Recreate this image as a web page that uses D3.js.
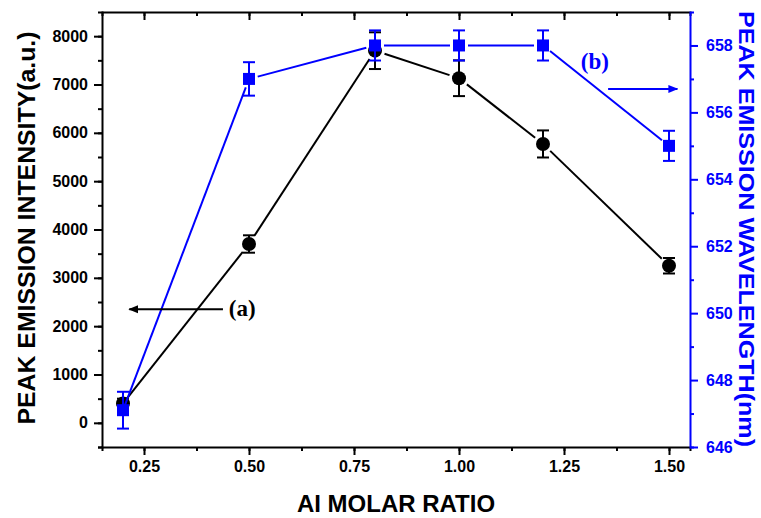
<!DOCTYPE html>
<html>
<head>
<meta charset="utf-8">
<style>
body { margin: 0; background: #fff; }
text { font-family: "Liberation Sans", Arial, sans-serif; font-weight: bold; }
.note { font-family: "Liberation Serif", "Times New Roman", serif; font-weight: bold; }
</style>
</head>
<body>
<script src="https://cdn.jsdelivr.net/npm/d3@7/dist/d3.min.js"></script>
<script>

// data
var ratio = [0.2, 0.5, 0.8, 1.0, 1.2, 1.5];
var intensity = [400, 3700, 7700, 7130, 5770, 3250];
var intensityErr = [100, 180, 380, 370, 280, 160];
var wavelength = [647.1, 657, 658, 658, 658, 655];
var wavelengthErr = [0.55, 0.5, 0.45, 0.45, 0.45, 0.45];

var xTicks = [0.25, 0.5, 0.75, 1.0, 1.25, 1.5];
var leftTicks = [0, 1000, 2000, 3000, 4000, 5000, 6000, 7000, 8000];
var rightTicks = [646, 648, 650, 652, 654, 656, 658];

var width = 761, height = 518;
var mLeft = 102, mRight = 690, mTop = 12, mBottom = 447;
var blue = "#0000ff";

var svg = d3.select("body").append("svg")
    .attr("width", width)
    .attr("height", height);

var x = d3.scaleLinear().domain([0.15, 1.55]).range([mLeft, mRight]);
var yL = d3.scaleLinear().domain([-500, 8500]).range([mBottom, mTop]);
var yR = d3.scaleLinear().domain([646, 659]).range([mBottom, mTop]);

// axes
var xMinor = d3.range(0.125, 1.55, 0.125).filter(function(v) { return v > 0.15; });
var leftMinor = d3.range(-500, 8500, 500);
var rightMinor = d3.range(647, 659, 2);

function axisWithMinor(g, axisFn, scale, major, minor, fmt, color, pad) {
  g.call(axisFn(scale).tickValues(minor).tickSize(4).tickFormat(""));
  var maj = g.append("g").call(axisFn(scale).tickValues(major).tickSize(8).tickFormat(fmt).tickPadding(pad));
  maj.select(".domain").remove();
  g.selectAll("line").attr("stroke", color).attr("stroke-width", 2);
  g.selectAll(".domain").attr("stroke", color).attr("stroke-width", 2);
  g.selectAll("text").attr("fill", color).style("font-size", "16px")
      .style("font-family", "'Liberation Sans', Arial, sans-serif").style("font-weight", "bold");
}

var gx = svg.append("g").attr("transform", "translate(0," + mBottom + ")");
axisWithMinor(gx, d3.axisBottom, x, xTicks, xMinor, d3.format(".2f"), "#000", 6);

var gTop = svg.append("g").attr("transform", "translate(0," + mTop + ")");
axisWithMinor(gTop, d3.axisBottom, x, xTicks, xMinor, "", "#000", 6);

var gl = svg.append("g").attr("transform", "translate(" + mLeft + ",0)");
axisWithMinor(gl, d3.axisLeft, yL, leftTicks, leftMinor, d3.format("d"), "#000", 6);

var gr = svg.append("g").attr("transform", "translate(" + mRight + ",0)");
axisWithMinor(gr, d3.axisRight, yR, rightTicks, rightMinor, d3.format("d"), blue, 8);

// axis titles (stretched a bit along the axis like the original)
svg.append("text")
    .attr("transform", "translate(35,228) rotate(-90)")
    .attr("text-anchor", "middle")
    .attr("textLength", 393)
    .attr("lengthAdjust", "spacingAndGlyphs")
    .style("font-size", "24px")
    .text("PEAK EMISSION INTENSITY(a.u.)");

svg.append("text")
    .attr("transform", "translate(739,229) rotate(90)")
    .attr("text-anchor", "middle")
    .attr("textLength", 436)
    .attr("lengthAdjust", "spacingAndGlyphs")
    .attr("fill", blue)
    .style("font-size", "22px")
    .text("PEAK EMISSION WAVELENGTH(nm)");

svg.append("text")
    .attr("x", 396)
    .attr("y", 512)
    .attr("text-anchor", "middle")
    .style("font-size", "24px")
    .text("AI MOLAR RATIO");

// series drawing
function series(vals, errs, y, color, shape) {
  var pts = vals.map(function(v, i) { return {x: x(ratio[i]), y: y(v), lo: y(v - errs[i]), hi: y(v + errs[i])}; });
  var g = svg.append("g");
  var gap = shape == "circle" ? 10 : 9;
  for (var i = 0; i < pts.length - 1; i++) {
    var a = pts[i], b = pts[i + 1];
    var dx = b.x - a.x, dy = b.y - a.y, len = Math.sqrt(dx * dx + dy * dy);
    var ux = dx / len, uy = dy / len;
    var g0 = i == 0 ? 3 : gap;
    g.append("line")
        .attr("x1", a.x + ux * g0).attr("y1", a.y + uy * g0)
        .attr("x2", b.x - ux * gap).attr("y2", b.y - uy * gap)
        .attr("stroke", color).attr("stroke-width", 2);
  }
  pts.forEach(function(p) {
    g.append("line").attr("x1", p.x).attr("x2", p.x).attr("y1", p.lo).attr("y2", p.hi)
        .attr("stroke", color).attr("stroke-width", 2);
    [p.lo, p.hi].forEach(function(c) {
      g.append("line").attr("x1", p.x - 6).attr("x2", p.x + 6).attr("y1", c).attr("y2", c)
          .attr("stroke", color).attr("stroke-width", 2);
    });
    if (shape == "circle") {
      g.append("circle").attr("cx", p.x).attr("cy", p.y).attr("r", 7).attr("fill", color);
    } else {
      g.append("rect").attr("x", p.x - 6).attr("y", p.y - 6).attr("width", 12).attr("height", 12).attr("fill", color);
    }
  });
}

series(intensity, intensityErr, yL, "#000", "circle");
series(wavelength, wavelengthErr, yR, blue, "square");

// annotations
svg.append("defs").selectAll("marker")
    .data([["arrK", "#000"], ["arrB", blue]])
    .enter().append("marker")
    .attr("id", function(d) { return d[0]; })
    .attr("viewBox", "0 0 10 10").attr("refX", 9).attr("refY", 5)
    .attr("markerWidth", 5).attr("markerHeight", 5).attr("orient", "auto")
    .append("path").attr("d", "M0,1 L10,5 L0,9 z").attr("fill", function(d) { return d[1]; });

var arrowA = yL(2350);
svg.append("line")
    .attr("x1", x(0.438)).attr("x2", x(0.215))
    .attr("y1", arrowA).attr("y2", arrowA)
    .attr("stroke", "#000").attr("stroke-width", 2)
    .attr("marker-end", "url(#arrK)");
svg.append("text").attr("class", "note")
    .attr("x", x(0.452)).attr("y", arrowA + 7)
    .style("font-size", "23px")
    .text("(a)");

var arrowB = yR(656.7);
svg.append("line")
    .attr("x1", x(1.355)).attr("x2", x(1.52))
    .attr("y1", arrowB).attr("y2", arrowB)
    .attr("stroke", blue).attr("stroke-width", 2)
    .attr("marker-end", "url(#arrB)");
svg.append("text").attr("class", "note")
    .attr("x", x(1.29)).attr("y", yR(657.5) + 7)
    .attr("fill", blue)
    .style("font-size", "23px")
    .text("(b)");

</script>
</body>
</html>
